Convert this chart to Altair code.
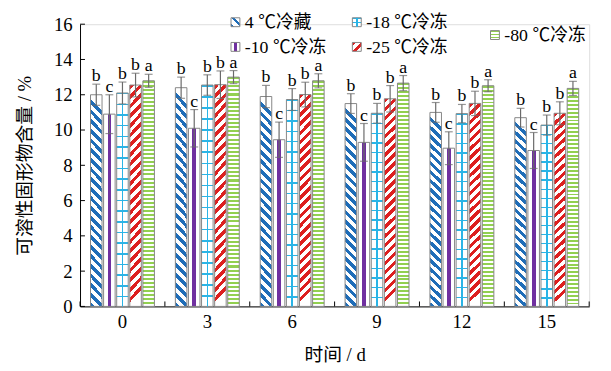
import altair as alt
import pandas as pd

days = ["0", "3", "6", "9", "12", "15"]
series = ["4 ℃冷藏", "-10 ℃冷冻", "-18 ℃冷冻", "-25 ℃冷冻", "-80 ℃冷冻"]

val_4 = [12.0, 12.4, 11.9, 11.5, 11.0, 10.7]
val_10 = [10.9, 10.1, 9.45, 9.3, 8.97, 8.84]
val_18 = [12.1, 12.55, 11.73, 10.95, 10.93, 10.28]
val_25 = [12.55, 12.57, 12.01, 11.77, 11.51, 10.95]
val_80 = [12.79, 13.0, 12.79, 12.66, 12.51, 12.36]

err_4 = [0.6, 0.6, 0.63, 0.56, 0.56, 0.53]
err_10 = [1.1, 1.06, 1.0, 1.07, 0.93, 1.02]
err_18 = [0.62, 0.58, 0.62, 0.56, 0.52, 0.57]
err_25 = [0.67, 0.78, 0.7, 0.75, 0.69, 0.65]
err_80 = [0.37, 0.37, 0.4, 0.43, 0.34, 0.4]

let_4 = ["b", "b", "b", "b", "b", "b"]
let_10 = ["c", "c", "c", "c", "c", "c"]
let_18 = ["b", "b", "b", "b", "b", "b"]
let_25 = ["b", "b", "b", "b", "b", "b"]
let_80 = ["a", "a", "a", "a", "a", "a"]

y_ticks = [0, 2, 4, 6, 8, 10, 12, 14, 16]

vals = [val_4, val_10, val_18, val_25, val_80]
errs = [err_4, err_10, err_18, err_25, err_80]
lets = [let_4, let_10, let_18, let_25, let_80]

rows = []
for i, s in enumerate(series):
    for j, d in enumerate(days):
        rows.append({"day": d, "series": s, "value": vals[i][j],
                     "lo": vals[i][j] - errs[i][j], "hi": vals[i][j] + errs[i][j],
                     "letter": lets[i][j]})
df = pd.DataFrame(rows)

SERIF = "Liberation Serif, Times New Roman, serif"
MIXED = "Liberation Serif, Noto Sans CJK SC"
W, H = 516, 286
BLUE, PURPLE, CYAN, RED, GREEN = "#1f6db8", "#7030a0", "#2ab4e6", "#dd1f1f", "#92d050"
WHITE = "#ffffff"
CLEAR = "rgba(255,255,255,0)"


def stripes(color, n, frac, x1, y1, x2, y2, bg=WHITE):
    stops = []
    for i in range(n):
        a = i / n
        b = (i + frac) / n
        c = min((i + 1) / n, 1.0)
        stops += [{"offset": a, "color": color}, {"offset": b, "color": color},
                  {"offset": b, "color": bg}, {"offset": c, "color": bg}]
    return {"gradient": "linear", "stops": stops, "x1": x1, "y1": y1, "x2": x2, "y2": y2}


def band(color, a, b, bg=WHITE):
    return {"gradient": "linear", "x1": 0, "y1": 0, "x2": 1, "y2": 0,
            "stops": [{"offset": 0, "color": bg}, {"offset": a, "color": bg},
                      {"offset": a, "color": color}, {"offset": b, "color": color},
                      {"offset": b, "color": bg}, {"offset": 1, "color": bg}]}


bw = 11.7
fills = {
    series[0]: [stripes(BLUE, 22, 0.5, 0, 1, bw / 207, 0)],
    series[1]: [band(PURPLE, 0.34, 0.66)],
    series[2]: [stripes(CYAN, 20, 0.14, 0, 0, 0, 1), band(CYAN, 0.44, 0.58, CLEAR)],
    series[3]: [stripes(RED, 23, 0.5, 0, 0, bw / 213, 1)],
    series[4]: [stripes(GREEN, 56, 0.5, 0, 0, 0, 1)],
}
sym_fills = {
    series[0]: [stripes(BLUE, 2, 0.4, 0, 1, 1, 0)],
    series[1]: [band(PURPLE, 0.3, 0.7)],
    series[2]: [stripes(CYAN, 2, 0.25, 0, 0, 0, 1), band(CYAN, 0.4, 0.6, CLEAR)],
    series[3]: [stripes(RED, 2, 0.4, 0, 0, 1, 1)],
    series[4]: [stripes(GREEN, 3, 0.5, 0, 0, 0, 1)],
}

xscale = alt.Scale(domain=days, paddingInner=0, paddingOuter=0)
yscale = alt.Scale(domain=[0, 16], nice=False)
xaxis = alt.Axis(title="时间 / d", labelAngle=0, ticks=False, tickSize=0,
                 labelFont=SERIF, labelFontSize=19, labelColor="black",
                 labelPadding=6, domainColor="black", domainWidth=1, grid=False,
                 titleFont=MIXED, titleFontSize=19, titleFontWeight="normal",
                 titleColor="black", titleY=49, titleBaseline="middle")
yaxis = alt.Axis(title="可溶性固形物含量 / %", values=y_ticks, ticks=False, tickSize=0,
                 labelFont=SERIF, labelFontSize=19, labelColor="black", labelPadding=8,
                 labelOverlap=False, domainColor="black", domainWidth=1, grid=False,
                 titleFont=MIXED, titleFontSize=19, titleFontWeight="normal",
                 titleColor="black", titleAngle=270, titleX=-56, titleY=143,
                 titleAlign="center", titleBaseline="middle")


def X(field="day:N", **kw):
    return alt.X(field, scale=xscale, axis=xaxis, **kw)


def Y(field):
    return alt.Y(field, scale=yscale, axis=yaxis)


xoff = alt.XOffset("series:N", scale=alt.Scale(domain=series, paddingInner=0.12, paddingOuter=0.8))

layers = []
for s in series:
    for k, f in enumerate(fills[s]):
        mk = {"fill": f}
        if k == 0:
            mk.update({"stroke": "#858585", "strokeWidth": 1})
        layers.append(alt.Chart(df).transform_filter(alt.datum.series == s)
                      .mark_bar(**mk).encode(x=X(), xOffset=xoff, y=Y("value:Q")))

ecol = "#6a6a6a"
layers.append(alt.Chart(df).mark_rule(color=ecol, strokeWidth=1.2).encode(
    x=X(), xOffset=xoff, y=Y("lo:Q"), y2="hi:Q"))
layers.append(alt.Chart(df).mark_tick(color=ecol, size=8, thickness=1.2).encode(
    x=X(), xOffset=xoff, y=Y("hi:Q")))
layers.append(alt.Chart(df).mark_tick(color=ecol, size=8, thickness=1.2).encode(
    x=X(), xOffset=xoff, y=Y("lo:Q")))
layers.append(alt.Chart(df).mark_text(font=SERIF, fontSize=18, color="black",
                                      baseline="alphabetic", dy=-3).encode(
    x=X(), xOffset=xoff, y=Y("hi:Q"), text="letter:N"))

# inward axis ticks
layers.append(alt.Chart(pd.DataFrame({"t": y_ticks})).mark_rule(color="black", strokeWidth=1).encode(
    y=Y("t:Q"), x=alt.value(0), x2=alt.value(5)))
layers.append(alt.Chart(pd.DataFrame({"day": days})).mark_rule(color="black", strokeWidth=1).encode(
    x=X(bandPosition=0), y=alt.value(H), y2=alt.value(H - 5)))
one = pd.DataFrame({"k": [0]})
layers.append(alt.Chart(one).mark_rule(color="black", strokeWidth=1).encode(
    x=alt.value(W), y=alt.value(H), y2=alt.value(H - 5)))

# legend
leg_pos = {
    series[0]: (153, -2),
    series[1]: (153, 23),
    series[2]: (276, -2),
    series[3]: (276, 23),
    series[4]: (416, 11),
}
for s in series:
    lx, ly = leg_pos[s]
    for k, f in enumerate(sym_fills[s]):
        mk = {"fill": f}
        if k == 0:
            mk.update({"stroke": "#858585", "strokeWidth": 1})
        layers.append(alt.Chart(one).mark_rect(**mk).encode(
            x=alt.value(lx), x2=alt.value(lx + 9), y=alt.value(ly - 4.5), y2=alt.value(ly + 4.5)))
    layers.append(alt.Chart(one).mark_text(font=MIXED, fontSize=18,
                                           color="black", align="left", baseline="middle").encode(
        x=alt.value(lx + 14), y=alt.value(ly + 1), text=alt.value(s)))

chart = alt.layer(*layers).properties(
    width=W, height=H,
    padding={"left": 73, "top": 14, "right": 14, "bottom": 60},
    autosize=alt.AutoSizeParams(type="none"),
).configure_view(strokeWidth=0).configure(background="white")

chart.save("out.html", embed_options={"renderer": "svg", "actions": False})
